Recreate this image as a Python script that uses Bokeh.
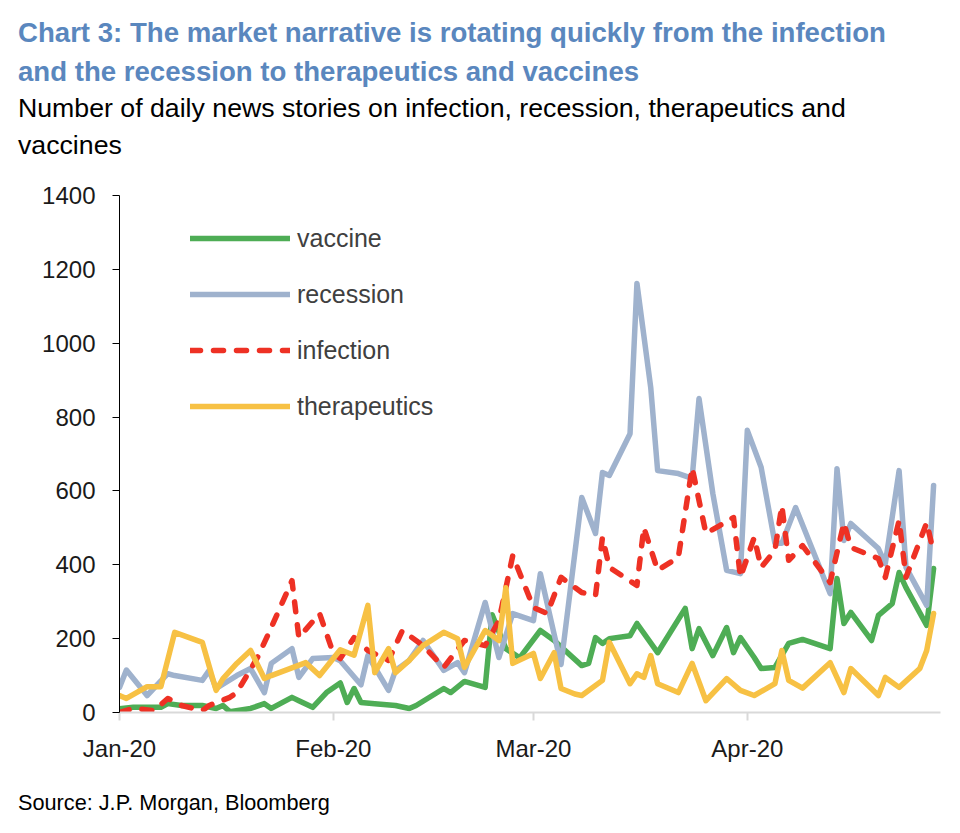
from datetime import datetime
import pandas as pd
from bokeh.plotting import figure
from bokeh.models import (Legend, LegendItem, FixedTicker, Div,
                          DatetimeTickFormatter, Range1d)
from bokeh.layouts import column
from bokeh.embed import file_html
from bokeh.resources import INLINE

# ---------------- data ----------------
vaccine_dates = ["2020-01-01", "2020-01-03", "2020-01-07", "2020-01-08", "2020-01-10", "2020-01-13",
                 "2020-01-15", "2020-01-16", "2020-01-17", "2020-01-20", "2020-01-22", "2020-01-23",
                 "2020-01-26", "2020-01-27", "2020-01-29", "2020-01-31", "2020-02-02", "2020-02-03",
                 "2020-02-04", "2020-02-05", "2020-02-07", "2020-02-10", "2020-02-12", "2020-02-13",
                 "2020-02-17", "2020-02-18", "2020-02-20", "2020-02-23", "2020-02-24", "2020-02-26",
                 "2020-02-28", "2020-03-02", "2020-03-04", "2020-03-08", "2020-03-09", "2020-03-10",
                 "2020-03-11", "2020-03-12", "2020-03-15", "2020-03-16", "2020-03-19", "2020-03-23",
                 "2020-03-24", "2020-03-25", "2020-03-27", "2020-03-29", "2020-03-30", "2020-03-31",
                 "2020-04-02", "2020-04-03", "2020-04-05", "2020-04-07", "2020-04-09", "2020-04-13",
                 "2020-04-14", "2020-04-15", "2020-04-16", "2020-04-19", "2020-04-20", "2020-04-22",
                 "2020-04-23", "2020-04-24", "2020-04-27", "2020-04-28"]
vaccine = [10, 14, 14, 24, 19, 19, 11, 19, 2, 11, 24, 11,
           41, 32, 14, 54, 80, 27, 65, 27, 24, 19, 11, 19,
           65, 54, 84, 68, 265, 173, 148, 222, 195, 127, 133, 203,
           187, 200, 208, 241, 162, 282, 173, 227, 154, 230, 162, 203,
           149, 119, 122, 187, 198, 173, 363, 241, 271, 195, 263, 295,
           379, 338, 236, 390]

recession_dates = ["2020-01-01", "2020-01-02", "2020-01-05", "2020-01-08", "2020-01-09", "2020-01-13",
                   "2020-01-14", "2020-01-15", "2020-01-18", "2020-01-20", "2020-01-22", "2020-01-23",
                   "2020-01-26", "2020-01-27", "2020-01-29", "2020-02-01", "2020-02-02", "2020-02-05",
                   "2020-02-06", "2020-02-09", "2020-02-10", "2020-02-12", "2020-02-14", "2020-02-17",
                   "2020-02-19", "2020-02-20", "2020-02-23", "2020-02-25", "2020-02-27", "2020-03-01",
                   "2020-03-02", "2020-03-05", "2020-03-08", "2020-03-10", "2020-03-11", "2020-03-12",
                   "2020-03-15", "2020-03-16", "2020-03-18", "2020-03-19", "2020-03-22", "2020-03-24",
                   "2020-03-25", "2020-03-27", "2020-03-29", "2020-03-31", "2020-04-01", "2020-04-03",
                   "2020-04-05", "2020-04-06", "2020-04-08", "2020-04-13", "2020-04-14", "2020-04-15",
                   "2020-04-16", "2020-04-20", "2020-04-21", "2020-04-23", "2020-04-24", "2020-04-27",
                   "2020-04-28"]
recession = [68, 115, 46, 105, 100, 87, 114, 65, 100, 119, 54, 133,
             173, 95, 146, 149, 140, 75, 154, 60, 114, 141, 195, 114,
             135, 108, 298, 149, 268, 249, 376, 130, 582, 485, 650, 642,
             755, 1162, 880, 655, 647, 634, 850, 593, 385, 376, 764, 664,
             458, 458, 555, 322, 660, 466, 512, 444, 403, 655, 393, 290,
             615]

infection_dates = ["2020-01-01", "2020-01-03", "2020-01-06", "2020-01-08", "2020-01-10", "2020-01-13",
                   "2020-01-14", "2020-01-17", "2020-01-18", "2020-01-21", "2020-01-23", "2020-01-26",
                   "2020-01-27", "2020-01-30", "2020-02-01", "2020-02-02", "2020-02-04", "2020-02-06",
                   "2020-02-09", "2020-02-11", "2020-02-14", "2020-02-17", "2020-02-20", "2020-02-23",
                   "2020-02-25", "2020-02-27", "2020-03-01", "2020-03-03", "2020-03-05", "2020-03-08",
                   "2020-03-10", "2020-03-11", "2020-03-12", "2020-03-16", "2020-03-17", "2020-03-19",
                   "2020-03-22", "2020-03-24", "2020-03-26", "2020-03-28", "2020-03-30", "2020-03-31",
                   "2020-04-02", "2020-04-03", "2020-04-05", "2020-04-06", "2020-04-07", "2020-04-09",
                   "2020-04-13", "2020-04-15", "2020-04-16", "2020-04-20", "2020-04-21", "2020-04-23",
                   "2020-04-24", "2020-04-27", "2020-04-28"]
infection = [0, 11, 5, 38, 19, 5, 19, 41, 54, 149, 230, 357,
             203, 268, 160, 146, 203, 168, 141, 222, 181, 122, 195, 181,
             249, 425, 284, 268, 366, 325, 317, 474, 393, 344, 501, 385,
             420, 663, 485, 506, 528, 366, 474, 393, 439, 560, 412, 452,
             352, 514, 447, 417, 366, 520, 366, 514, 433]

therapeutics_dates = ["2020-01-01", "2020-01-02", "2020-01-05", "2020-01-07", "2020-01-09", "2020-01-13",
                      "2020-01-15", "2020-01-16", "2020-01-18", "2020-01-20", "2020-01-22", "2020-01-23",
                      "2020-01-28", "2020-01-30", "2020-02-02", "2020-02-04", "2020-02-06", "2020-02-07",
                      "2020-02-09", "2020-02-10", "2020-02-12", "2020-02-14", "2020-02-17", "2020-02-19",
                      "2020-02-20", "2020-02-23", "2020-02-25", "2020-02-26", "2020-02-27", "2020-03-01",
                      "2020-03-02", "2020-03-04", "2020-03-05", "2020-03-07", "2020-03-08", "2020-03-11",
                      "2020-03-12", "2020-03-15", "2020-03-16", "2020-03-17", "2020-03-18", "2020-03-19",
                      "2020-03-22", "2020-03-24", "2020-03-26", "2020-03-29", "2020-03-31", "2020-04-02",
                      "2020-04-05", "2020-04-06", "2020-04-07", "2020-04-09", "2020-04-13", "2020-04-15",
                      "2020-04-16", "2020-04-20", "2020-04-21", "2020-04-23", "2020-04-26", "2020-04-27",
                      "2020-04-28"]
therapeutics = [46, 38, 70, 70, 217, 190, 60, 92, 133, 168, 92, 100,
                135, 100, 170, 155, 290, 108, 173, 108, 141, 181, 217, 200,
                122, 222, 195, 338, 133, 160, 92, 162, 65, 50, 46, 87,
                190, 78, 105, 95, 154, 78, 54, 133, 32, 92, 60, 46,
                78, 168, 87, 66, 135, 54, 119, 46, 95, 68, 119, 168,
                268]

month_ticks = ["2020-01-01", "2020-02-01", "2020-03-01", "2020-04-01"]
y_ticks = [0, 200, 400, 600, 800, 1000, 1200, 1400]

title_lines = ["Chart 3: The market narrative is rotating quickly from the infection",
               "and the recession to therapeutics and vaccines"]
subtitle_lines = ["Number of daily news stories on infection, recession, therapeutics and",
                  "vaccines"]
source_text = "Source: J.P. Morgan, Bloomberg"

# ---------------- figure ----------------
FONT = "'Liberation Sans', Arial, sans-serif"

p = figure(width=960, height=612, x_axis_type="datetime",
           output_backend="svg", toolbar_location=None,
           x_range=Range1d(datetime(2020, 1, 1), datetime(2020, 4, 29)),
           y_range=Range1d(0, 1400),
           min_border_left=119, min_border_right=20,
           min_border_top=27, min_border_bottom=68, margin=0)
p.outline_line_color = None
p.background_fill_color = "white"
p.border_fill_color = "white"
p.xgrid.visible = False
p.ygrid.visible = False

series = [
    ("vaccine", vaccine_dates, vaccine, "#4EAD55", "solid"),
    ("recession", recession_dates, recession, "#9FB2CD", "solid"),
    ("infection", infection_dates, infection, "#EE3124", "10 13"),
    ("therapeutics", therapeutics_dates, therapeutics, "#F7C144", "solid"),
]
items = []
for name, d, v, col, dash in series:
    r = p.line(x=pd.to_datetime(d), y=v, line_color=col, line_width=5.5,
               line_join="round", line_cap="round", line_dash=dash)
    items.append(LegendItem(label=name, renderers=[r]))

legend = Legend(items=items, location=(71, 281), glyph_width=100, glyph_height=50,
                label_standoff=7, spacing=6, padding=0, margin=0,
                border_line_color=None, background_fill_alpha=0,
                label_text_font_size="25px", label_text_color="#404040",
                label_text_font=FONT)
p.add_layout(legend)

# axes
p.yaxis.ticker = FixedTicker(ticks=y_ticks)
p.yaxis.axis_line_color = "black"
p.yaxis.major_tick_line_color = "black"
p.yaxis.major_tick_out = 7
p.yaxis.major_tick_in = 0
p.yaxis.minor_tick_line_color = None
p.yaxis.major_label_text_font_size = "24px"
p.yaxis.major_label_text_font = FONT
p.yaxis.major_label_text_color = "#1a1a1a"
p.yaxis.major_label_standoff = 17

p.xaxis.ticker = FixedTicker(ticks=[pd.Timestamp(m).timestamp() * 1000 for m in month_ticks])
fmt = "%b-%y"
p.xaxis.formatter = DatetimeTickFormatter(days=fmt, months=fmt, years=fmt, hours=fmt,
                                          hourmin=fmt, minutes=fmt, minsec=fmt,
                                          seconds=fmt, milliseconds=fmt, microseconds=fmt)
p.xaxis.axis_line_color = "#D9D9D9"
p.xaxis.axis_line_width = 2
p.xaxis.major_tick_line_color = "#D9D9D9"
p.xaxis.major_tick_line_width = 2
p.xaxis.major_tick_out = 8
p.xaxis.major_tick_in = 0
p.xaxis.minor_tick_line_color = None
p.xaxis.major_label_text_font_size = "24px"
p.xaxis.major_label_text_font = FONT
p.xaxis.major_label_text_color = "#1a1a1a"
p.xaxis.major_label_standoff = 14

# ---------------- title, subtitle and source ----------------
head_html = (
    f'<div style="margin:0;padding:13px 0 0 18px;font-family:{FONT};font-weight:bold;'
    f'font-size:27.6px;line-height:39px;color:#5A87BE;white-space:nowrap">'
    f'{title_lines[0]}<br>{title_lines[1]}</div>'
    f'<div style="margin:-1px 0 0 0;padding:0 0 0 18px;font-family:{FONT};'
    f'font-size:26.7px;line-height:37px;color:#000000;white-space:nowrap">'
    f'{subtitle_lines[0]}<br>{subtitle_lines[1]}</div>'
)
head = Div(text=head_html, width=960, height=168, margin=0)

foot_html = (
    f'<div style="margin:0;padding:10px 0 0 18px;font-family:{FONT};'
    f'font-size:21.7px;line-height:25px;color:#000000;white-space:nowrap">{source_text}</div>'
)
foot = Div(text=foot_html, width=960, height=53, margin=0)

layout = column(head, p, foot, spacing=0, margin=0)

open("out.html", "w").write(file_html(layout, INLINE))
